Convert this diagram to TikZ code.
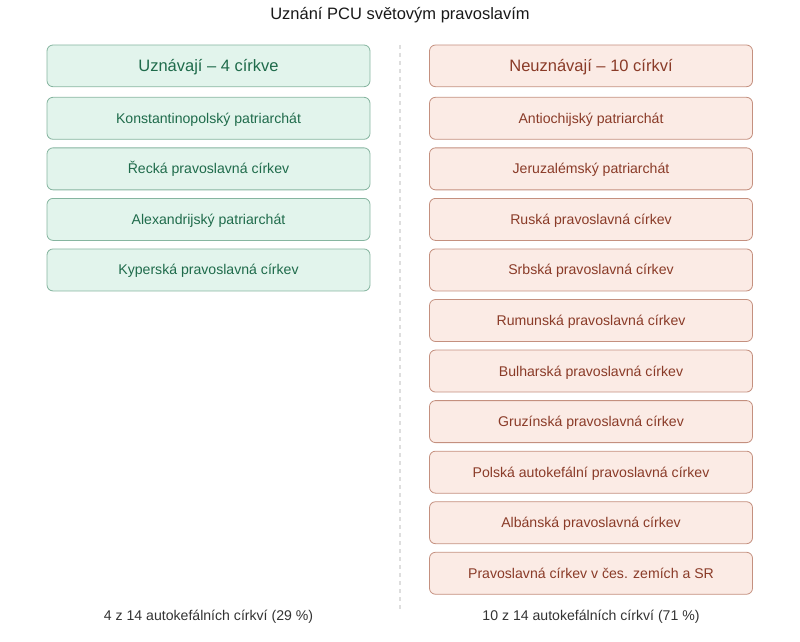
\documentclass[tikz,border=0pt]{standalone}
\usepackage{fontspec}
\setmainfont{Liberation Sans}
\usetikzlibrary{positioning}

\definecolor{okfill}{HTML}{E2F4EC}
\definecolor{okline}{HTML}{86B5A0}
\definecolor{oktext}{HTML}{1F6B4B}
\definecolor{nofill}{HTML}{FBEBE5}
\definecolor{noline}{HTML}{C4907F}
\definecolor{notext}{HTML}{8A3B28}
\definecolor{graytext}{HTML}{333333}

\begin{document}
\begin{tikzpicture}[x=1pt,y=-1pt,
node distance=7.75pt,
box/.style={rectangle, rounded corners=6pt, minimum width=323pt,
 minimum height=42pt, line width=0.8pt, inner sep=0pt,
 text height=10pt, text depth=0pt,
 font=\fontsize{14.1}{16}\selectfont},
okbox/.style={box, fill=okfill, draw=okline, text=oktext},
nobox/.style={box, fill=nofill, draw=noline, text=notext},
head/.style={minimum height=41.7pt, font=\fontsize{16.5}{19}\selectfont, text height=11.5pt}]
\useasboundingbox (0,0) rectangle (800,642);

\node[text=black!90, font=\fontsize{16.5}{19}\selectfont] (title) at (400,15.5) {Uznání PCU světovým pravoslavím};

% left column
\node[okbox, head] (U0) at (208.5,65.85) {Uznávají – 4 církve};
\foreach \name [count=\i, remember=\i as \j (initially 0)] in
 {Konstantinopolský patriarchát, Řecká pravoslavná církev,
  Alexandrijský patriarchát, Kyperská pravoslavná církev}{
 \pgfmathsetmacro\gap{\i==1 ? 9.8 : 7.75}
 \node[okbox, below=\gap pt of U\j] (U\i) {\name};}

% right column
\node[nobox, head] (N0) at (591,65.85) {Neuznávají – 10 církví};
\foreach \name [count=\i, remember=\i as \j (initially 0)] in
 {Antiochijský patriarchát, Jeruzalémský patriarchát,
  Ruská pravoslavná církev, Srbská pravoslavná církev,
  Rumunská pravoslavná církev, Bulharská pravoslavná církev,
  Gruzínská pravoslavná církev, Polská autokefální pravoslavná církev,
  Albánská pravoslavná církev, Pravoslavná církev v čes. zemích a SR}{
 \pgfmathsetmacro\gap{\i==1 ? 9.8 : 7.75}
 \node[nobox, below=\gap pt of N\j] (N\i) {\name};}

% divider
\coordinate (dtop) at (400,45);
\coordinate (dbot) at (400,612);
\draw[black!13, line width=1.5pt, dash pattern=on 4pt off 4pt] (dtop) -- (dbot);

% totals
\node[text=graytext, font=\fontsize{14.1}{16}\selectfont] (Utotal) at (208.5,616.5) {4 z 14 autokefálních církví (29 \%)};
\node[text=graytext, font=\fontsize{14.1}{16}\selectfont] (Ntotal) at (591,616.5) {10 z 14 autokefálních církví (71 \%)};

\end{tikzpicture}
\end{document}
